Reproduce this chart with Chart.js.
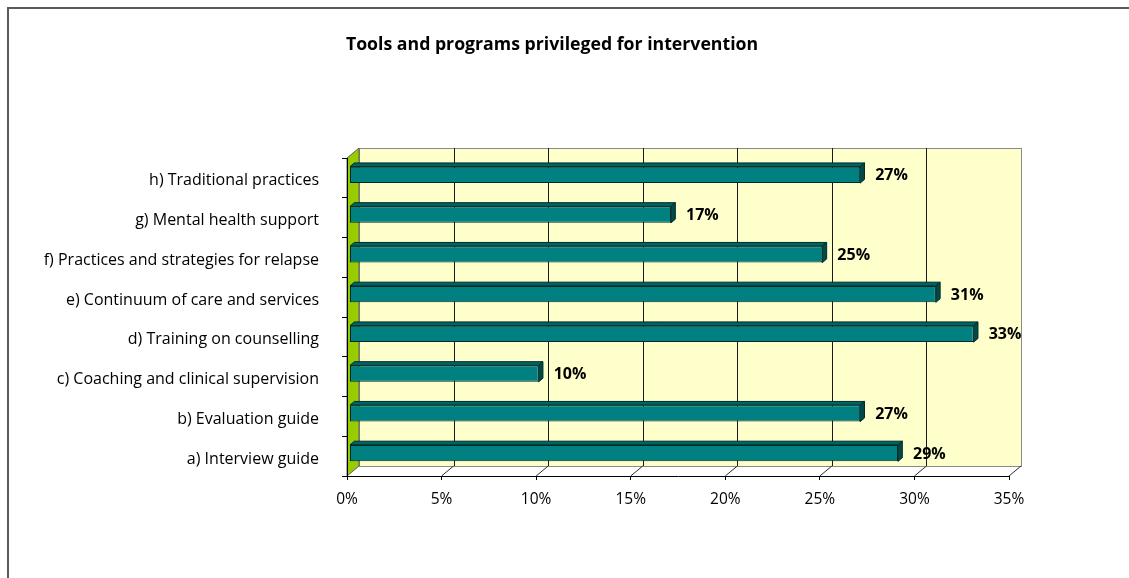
<!DOCTYPE html>
<html>
<head>
<meta charset="utf-8">
<script src="https://cdn.jsdelivr.net/npm/chart.js@4.4.1/dist/chart.umd.min.js"></script>
<style>
  html, body { margin: 0; padding: 0; background: #ffffff; overflow: hidden; }
  #wrap { position: relative; width: 1129px; height: 578px; }
  #frame { position: absolute; left: 7px; top: 7px; width: 1300px; height: 800px;
           border-left: 2px solid #5a5a5a; border-top: 2px solid #5a5a5a; pointer-events: none; }
  canvas { position: absolute; left: 0; top: 0; }
</style>
</head>
<body>
<div id="wrap">
  <canvas id="chart" width="1129" height="578"></canvas>
  <div id="frame"></div>
</div>
<script>
// Chart heading
const chartTitle = 'Tools and programs privileged for intervention';
// Categories, bottom to top
const categories = [
  'a) Interview guide',
  'b) Evaluation guide',
  'c) Coaching and clinical supervision',
  'd) Training on counselling',
  'e) Continuum of care and services',
  'f) Practices and strategies for relapse',
  'g) Mental health support',
  'h) Traditional practices'
];
// Share of respondents (%)
const percentValues = [29, 27, 10, 33, 31, 25, 17, 27];
// Horizontal axis tick labels
const tickLabels = ['0%', '5%', '10%', '15%', '20%', '25%', '30%', '35%'];

const FONT = "'Open Sans', 'DejaVu Sans', sans-serif";
const DEPTH_X = 12, DEPTH_Y = -10;       // oblique depth of the walls
const BAR_SHIFT_X = 2.5, BAR_SHIFT_Y = -3; // bars sit slightly inside the box
const BAR_DX = 4.3, BAR_DY = -3.7;       // depth of each bar

// Walls, floor and back grid of the 3D box, plus bar depth faces and value labels
const boxPlugin = {
  id: 'box3d',
  beforeDraw(chart) {
    const { ctx, chartArea: a, scales: { x } } = chart;
    const L = a.left, R = a.right, T = a.top, B = a.bottom;
    ctx.save();
    // back wall
    ctx.fillStyle = '#ffffcc';
    ctx.fillRect(L + DEPTH_X, T + DEPTH_Y, R - L, B - T);
    ctx.strokeStyle = '#8a8a8a';
    ctx.lineWidth = 1;
    ctx.strokeRect(L + DEPTH_X + 0.5, T + DEPTH_Y + 0.5, R - L, B - T);
    // back gridlines
    ctx.strokeStyle = '#1a1a1a';
    x.ticks.forEach(t => {
      if (t.value <= x.min || t.value >= x.max) return;
      const px = Math.round(x.getPixelForValue(t.value) + DEPTH_X) + 0.5;
      ctx.beginPath();
      ctx.moveTo(px, T + DEPTH_Y);
      ctx.lineTo(px, B + DEPTH_Y);
      ctx.stroke();
    });
    // floor
    ctx.fillStyle = '#ffffff';
    ctx.beginPath();
    ctx.moveTo(L, B); ctx.lineTo(L + DEPTH_X, B + DEPTH_Y);
    ctx.lineTo(R + DEPTH_X, B + DEPTH_Y); ctx.lineTo(R, B);
    ctx.closePath(); ctx.fill();
    ctx.strokeStyle = '#8a8a8a';
    ctx.beginPath();
    ctx.moveTo(L + DEPTH_X, B + DEPTH_Y + 0.5); ctx.lineTo(R + DEPTH_X, B + DEPTH_Y + 0.5);
    ctx.stroke();
    ctx.strokeStyle = '#2a2a2a';
    x.ticks.forEach(t => {
      if (t.value <= x.min) return;
      const px = x.getPixelForValue(t.value);
      ctx.beginPath();
      ctx.moveTo(px, B);
      ctx.lineTo(px + DEPTH_X, B + DEPTH_Y);
      ctx.stroke();
    });
    // side wall
    ctx.fillStyle = '#99cc00';
    ctx.strokeStyle = '#5e5e5e';
    ctx.beginPath();
    ctx.moveTo(L, T); ctx.lineTo(L + DEPTH_X, T + DEPTH_Y);
    ctx.lineTo(L + DEPTH_X, B + DEPTH_Y); ctx.lineTo(L, B);
    ctx.closePath(); ctx.fill(); ctx.stroke();
    ctx.restore();
  },
  beforeDatasetsDraw(chart) {
    chart.ctx.save();
    chart.ctx.translate(BAR_SHIFT_X, BAR_SHIFT_Y);
  },
  afterDatasetsDraw(chart) {
    const ctx = chart.ctx;
    const meta = chart.getDatasetMeta(0);
    meta.data.forEach((bar) => {
      const p = bar.getProps(['x', 'y', 'base', 'height'], true);
      const x0 = p.base, x1 = p.x;
      const top = p.y - p.height / 2, bot = p.y + p.height / 2;
      ctx.lineWidth = 1;
      ctx.strokeStyle = '#002a2a';
      // top face
      ctx.fillStyle = '#006464';
      ctx.beginPath();
      ctx.moveTo(x0, top); ctx.lineTo(x0 + BAR_DX, top + BAR_DY);
      ctx.lineTo(x1 + BAR_DX, top + BAR_DY); ctx.lineTo(x1, top);
      ctx.closePath(); ctx.fill(); ctx.stroke();
      // end face
      ctx.fillStyle = '#004a4a';
      ctx.beginPath();
      ctx.moveTo(x1, top); ctx.lineTo(x1 + BAR_DX, top + BAR_DY);
      ctx.lineTo(x1 + BAR_DX, bot + BAR_DY); ctx.lineTo(x1, bot);
      ctx.closePath(); ctx.fill(); ctx.stroke();
    });
    ctx.restore();
    // value labels
    ctx.save();
    ctx.font = 'bold 16px ' + FONT;
    ctx.fillStyle = '#000000';
    ctx.textAlign = 'left';
    ctx.textBaseline = 'middle';
    meta.data.forEach((bar, i) => {
      const p = bar.getProps(['x', 'y'], true);
      ctx.fillText(percentValues[i] + '%', p.x + BAR_SHIFT_X + 15, p.y + BAR_SHIFT_Y + 1);
    });
    ctx.restore();
  },
  afterDraw(chart) {
    const ctx = chart.ctx;
    ctx.save();
    ctx.font = 'bold 17.7px ' + FONT;
    ctx.fillStyle = '#000000';
    ctx.textAlign = 'center';
    ctx.textBaseline = 'middle';
    ctx.fillText(chartTitle, 552, 45);
    ctx.restore();
  }
};

Chart.defaults.font.family = FONT;
Chart.defaults.color = '#000000';

new Chart(document.getElementById('chart'), {
  type: 'bar',
  data: {
    labels: categories,
    datasets: [{
      data: percentValues,
      backgroundColor: '#008080',
      borderColor: '#002a2a',
      borderWidth: 1,
      borderSkipped: false,
      barPercentage: 1,
      categoryPercentage: 0.415
    }]
  },
  options: {
    indexAxis: 'y',
    responsive: false,
    animation: false,
    events: [],
    layout: { padding: { left: 0, right: 120, top: 158, bottom: 0 } },
    plugins: {
      legend: { display: false },
      tooltip: { enabled: false },
      title: { display: false }
    },
    scales: {
      x: {
        min: 0, max: 35,
        afterFit(scale) { scale.height = 102; },
        grid: { drawOnChartArea: false, tickLength: 4, color: '#000000' },
        border: { display: true, color: '#000000', width: 1 },
        ticks: {
          stepSize: 5,
          padding: 10,
          maxRotation: 0,
          font: { size: 15.5, family: FONT },
          color: '#000000',
          callback: (v, i) => tickLabels[i]
        }
      },
      y: {
        reverse: true,
        afterFit(scale) { scale.width = 347; },
        grid: { drawOnChartArea: false, tickLength: 5, color: '#000000', offset: true },
        border: { display: true, color: '#000000', width: 1 },
        ticks: {
          padding: 23,
          labelOffset: 3,
          font: { size: 16, family: FONT },
          color: '#000000'
        }
      }
    }
  },
  plugins: [boxPlugin]
});
</script>
</body>
</html>
